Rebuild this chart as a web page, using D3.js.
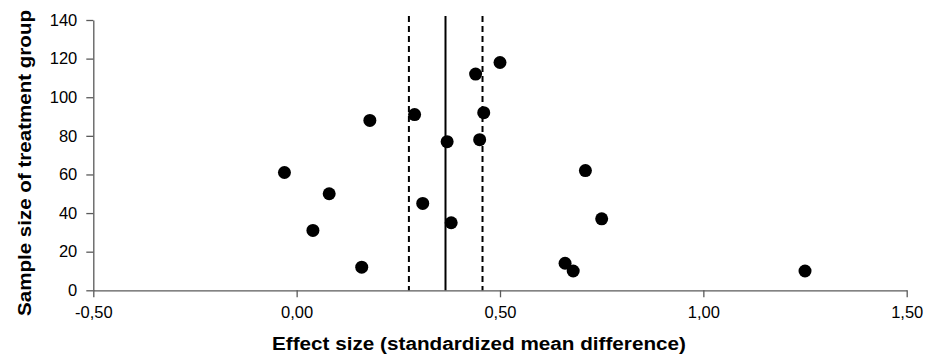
<!DOCTYPE html>
<html><head><meta charset="utf-8">
<script src="https://cdn.jsdelivr.net/npm/d3@7"></script>
<style>body{margin:0;background:#fff}svg{display:block}</style>
</head><body>
<svg id="c" width="933" height="360"></svg>
<script>
const effectSizes = [-0.03, 0.04, 0.08, 0.16, 0.18, 0.29, 0.31, 0.37, 0.38, 0.44, 0.45, 0.46, 0.50, 0.66, 0.68, 0.71, 0.75, 1.25];
const sampleSizes = [61, 31, 50, 12, 88, 91, 45, 77, 35, 112, 78, 92, 118, 14, 10, 62, 37, 10];
const meanEffect = 0.366;
const ciBounds = [0.276, 0.457];
const xTicks = [-0.5, 0, 0.5, 1.0, 1.5];
const yTicks = [0, 20, 40, 60, 80, 100, 120, 140];
const xTitle = "Effect size (standardized mean difference)";
const yTitle = "Sample size of treatment group";

const svg = d3.select("#c");
const x = d3.scaleLinear().domain([-0.5, 1.5]).range([93.3, 906.7]);
const y = d3.scaleLinear().domain([0, 140]).range([290.3, 20]);
const font = "'Liberation Sans', Arial, sans-serif";
const axisCol = "#5a5a5a";

const fmt = d => d3.format(".2f")(d).replace(".", ",").replace("\u2212", "-");

const gx = svg.append("g").attr("transform", `translate(0,${y(0)})`)
  .call(d3.axisBottom(x).tickValues(xTicks).tickFormat(fmt).tickSize(7).tickSizeOuter(0).tickPadding(9));
const gy = svg.append("g").attr("transform", `translate(${x(-0.5)},0)`)
  .call(d3.axisLeft(y).tickValues(yTicks).tickSize(7).tickSizeOuter(0).tickPadding(9));
[gx, gy].forEach(g => {
  g.select(".domain").attr("stroke", axisCol).attr("stroke-width", 1.3);
  g.selectAll(".tick line").attr("stroke", axisCol).attr("stroke-width", 1.3);
  g.selectAll(".tick text").attr("fill", "#000").style("font-family", font).style("font-size", "16.5px");
});

// reference lines
const lineTop = 16, lineBottom = y(0);
svg.append("line").attr("x1", x(meanEffect)).attr("x2", x(meanEffect))
  .attr("y1", lineTop).attr("y2", lineBottom).attr("stroke", "#000").attr("stroke-width", 2);
svg.selectAll(".ci").data(ciBounds).join("line").attr("class", "ci")
  .attr("x1", d => x(d)).attr("x2", d => x(d)).attr("y1", lineTop).attr("y2", lineBottom)
  .attr("stroke", "#000").attr("stroke-width", 2).attr("stroke-dasharray", "6,4");

// points
svg.selectAll(".pt").data(effectSizes.map((e, i) => [e, sampleSizes[i]])).join("circle")
  .attr("class", "pt").attr("cx", d => x(d[0])).attr("cy", d => y(d[1])).attr("r", 6.5).attr("fill", "#000");

// titles
svg.append("text").attr("x", 479).attr("y", 350).attr("text-anchor", "middle")
  .attr("textLength", 414).attr("lengthAdjust", "spacingAndGlyphs")
  .style("font-family", font).style("font-weight", "bold").style("font-size", "18px").text(xTitle);
svg.append("text").attr("transform", "translate(31,163) rotate(-90)").attr("text-anchor", "middle")
  .attr("textLength", 306).attr("lengthAdjust", "spacingAndGlyphs")
  .style("font-family", font).style("font-weight", "bold").style("font-size", "19px").text(yTitle);
</script>
</body></html>
